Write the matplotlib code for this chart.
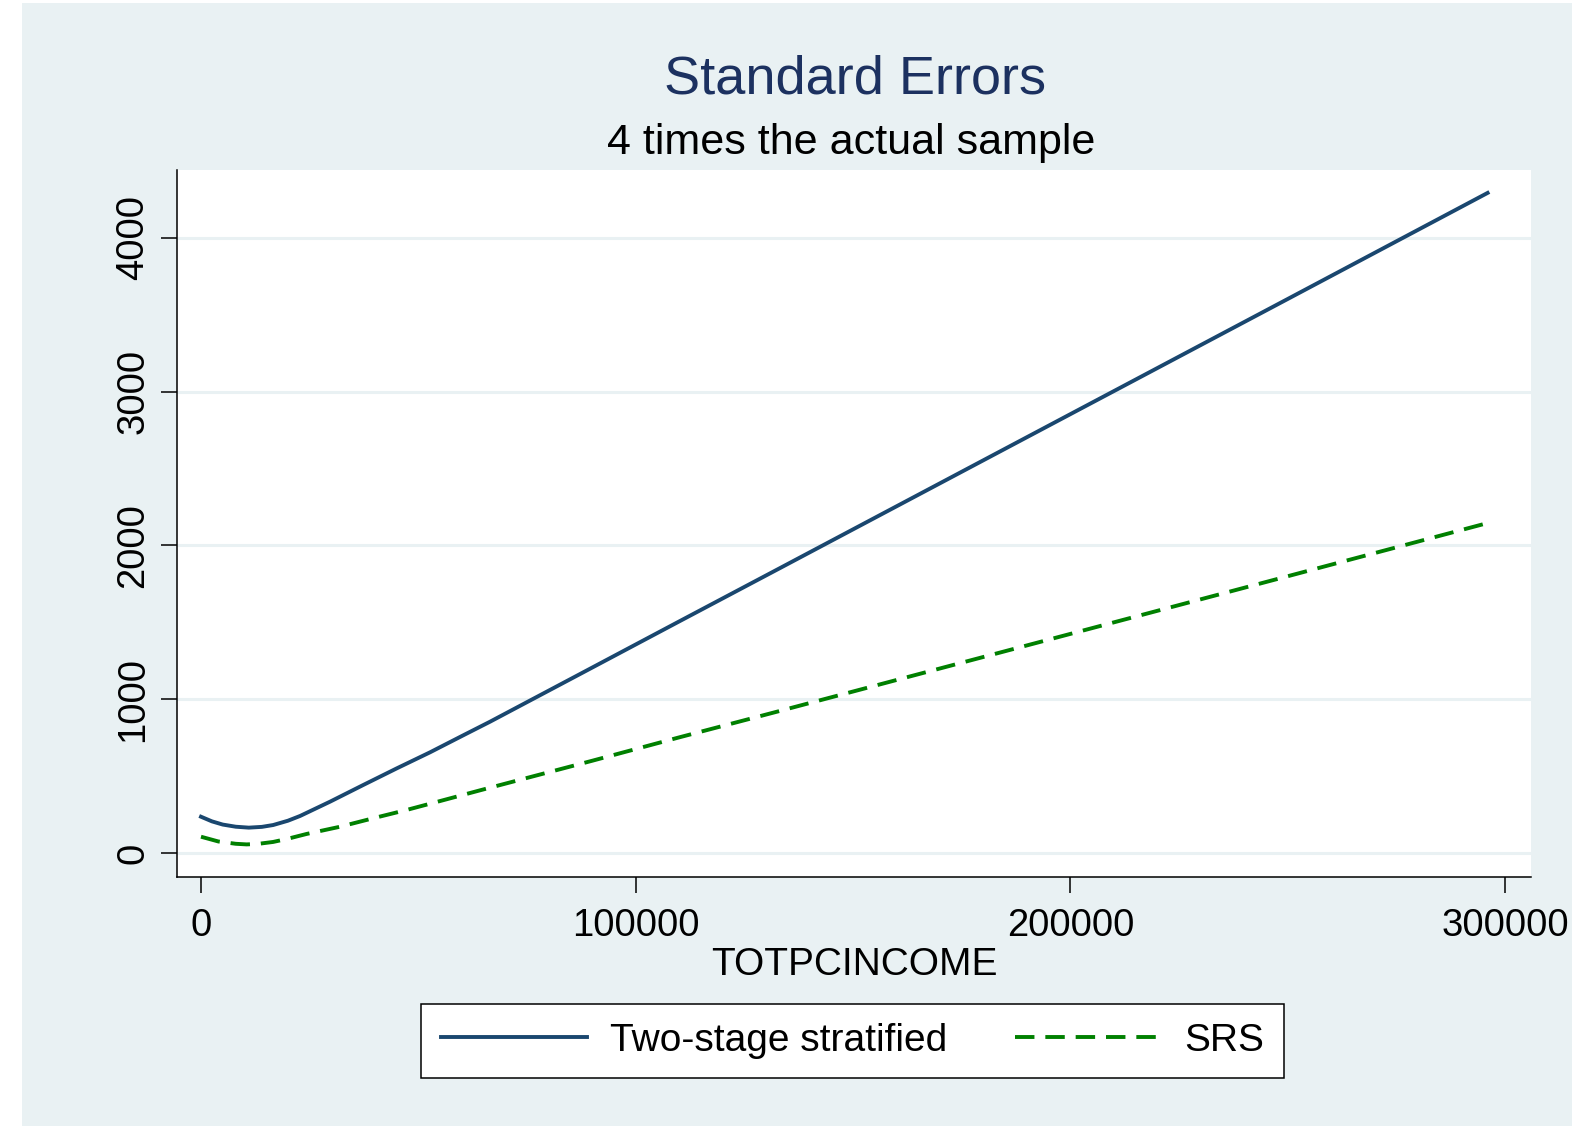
import matplotlib
matplotlib.use("Agg")
import matplotlib.pyplot as plt
from matplotlib.patches import Rectangle

plt.rcParams['font.family'] = ['Liberation Sans', 'DejaVu Sans']

# income grid and standard errors
income_two = [0, 2500, 5000, 8000, 11000, 14000, 16600, 20000, 22800, 29700,
              37300, 45000, 52700, 60300, 66500, 87200, 110000, 133000,
              200000, 250000, 296000]
se_two = [236, 206, 185, 171, 165, 170, 182, 210, 241, 334,
          442, 550, 655, 765, 854, 1164, 1506, 1850,
          2854, 3603, 4293]

income_srs = [0, 4000, 8000, 10500, 13000, 16600, 20000, 24300, 32000, 39600,
              47300, 55000, 64500, 90000, 110000, 132500, 200000, 250000,
              296000]
se_srs = [106, 75, 60, 56, 59, 72, 93, 124, 171, 226,
          280, 338, 410, 600, 752, 919, 1425, 1800,
          2146]

xticks = [0, 100000, 200000, 300000]
yticks = [0, 1000, 2000, 3000, 4000]
labels = ["Two-stage stratified", "SRS"]

W, H = 1585, 1126
bg = '#e9f1f3'
navy = '#1a476f'
green = '#008000'

fig = plt.figure(figsize=(W / 100, H / 100), dpi=100)
fig.patch.set_facecolor('white')
fig.patches.append(Rectangle((22 / W, 0), 1550 / W, 1 - 3 / H,
                             transform=fig.transFigure, facecolor=bg,
                             edgecolor='none', zorder=-10))

ax = fig.add_axes([177 / W, 1 - 877 / H, (1531 - 177) / W, (877 - 170) / H])
ax.set_facecolor('white')

ax.plot(income_two, se_two, color=navy, lw=2.8, label=labels[0], zorder=3)
ax.plot(income_srs, se_srs, color=green, lw=2.8, dashes=(5, 2.8),
        label=labels[1], zorder=3)

ax.set_xlim(-5521, 305980)
ax.set_ylim(-156, 4442)
ax.set_xticks(xticks)
ax.set_xticklabels([str(t) for t in xticks])
ax.set_yticks(yticks)
ax.set_yticklabels([str(t) for t in yticks], rotation=90, va='center')
ax.grid(axis='y', color=bg, lw=2.2, zorder=1)
ax.set_axisbelow(True)

for s in ['top', 'right']:
    ax.spines[s].set_visible(False)
for s in ['left', 'bottom']:
    ax.spines[s].set_linewidth(1.1)
ax.tick_params(axis='both', length=11.5, width=1.1, labelsize=27.5)
ax.tick_params(axis='x', pad=11)
ax.tick_params(axis='y', pad=7)

ax.set_xlabel("TOTPCINCOME", fontsize=28, labelpad=2)

fig.text(855 / W, 1 - 79 / H, "Standard Errors", fontsize=39,
         color='#1c3160', ha='center', va='center')
fig.text(851 / W, 1 - 143 / H, "4 times the actual sample", fontsize=31,
         color='black', ha='center', va='center')

leg = fig.legend(loc='center', bbox_to_anchor=(852.5 / W, 1 - 1041 / H),
                 ncol=2, fontsize=28, frameon=True, fancybox=False,
                 edgecolor='black', facecolor='white', framealpha=1,
                 handlelength=3.75, handletextpad=0.6,
                 columnspacing=1.75, borderpad=0.5)
leg.get_frame().set_linewidth(1.1)

fig.savefig("out.png", dpi=100, facecolor=fig.get_facecolor())
